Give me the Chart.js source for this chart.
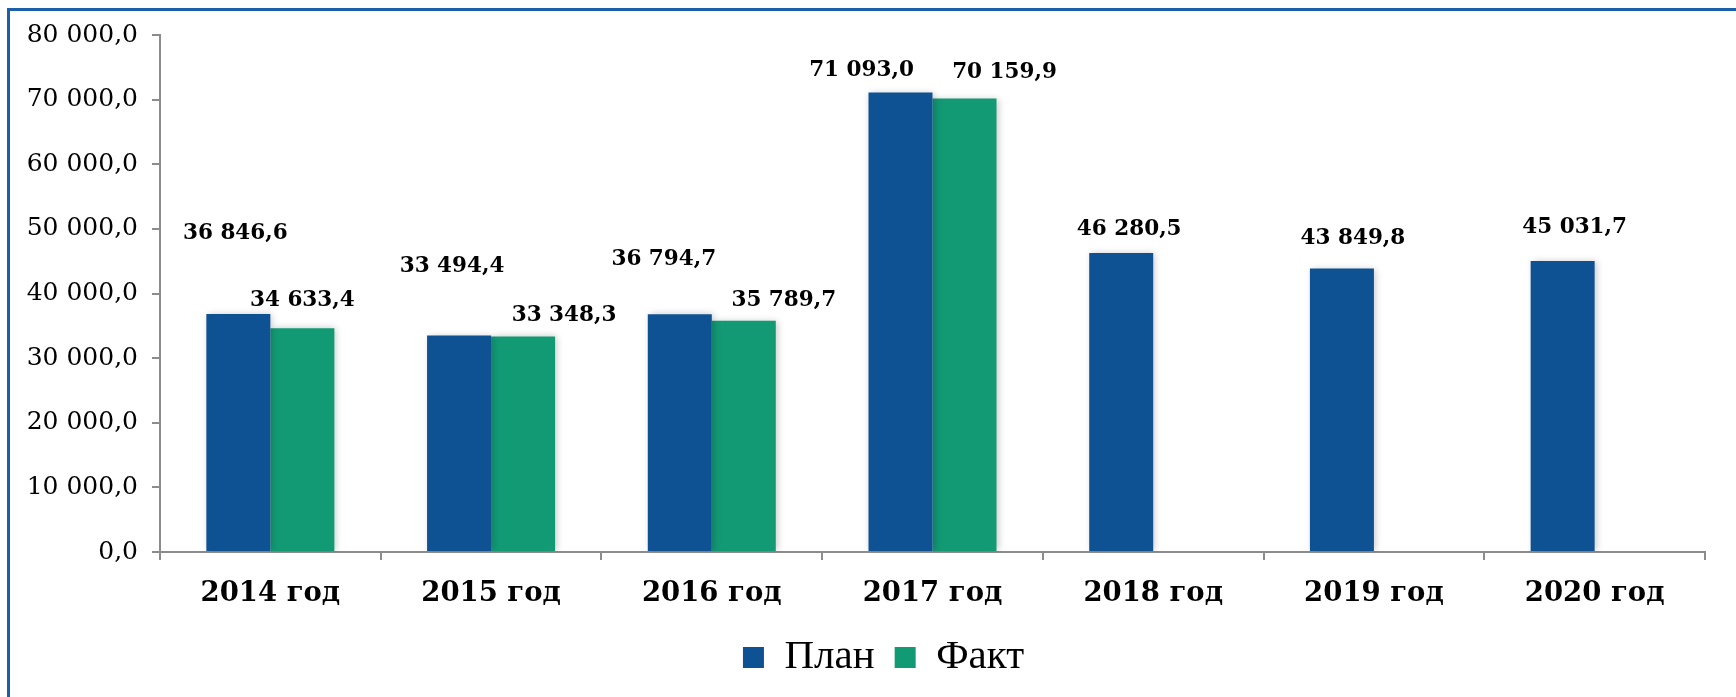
<!DOCTYPE html>
<html>
<head>
<meta charset="utf-8">
<script src="https://cdn.jsdelivr.net/npm/chart.js@4"></script>
<style>
	body { margin: 0; background: #fff; }
	#frame { position: absolute; left: 7px; top: 8px; right: -5px; bottom: -5px; border-left: 3px solid #1d5ea8; border-top: 3px solid #1d5ea8; }
	#chart { position: absolute; left: 0; top: 0; }
</style>
</head>
<body>
<div id="frame"></div>
<canvas id="chart" width="1736" height="697"></canvas>
<script>

var years = ["2014 год", "2015 год", "2016 год", "2017 год", "2018 год", "2019 год", "2020 год"];
var plan = [36846.6, 33494.4, 36794.7, 71093.0, 46280.5, 43849.8, 45031.7];
var fakt = [34633.4, 33348.3, 35789.7, 70159.9, null, null, null];

// label nudges (px) the way they were dragged around in the original
var planLabelShift = [[-3, -52], [-7, -41], [-16, -27], [-39, 6], [8, 5], [11, -2], [12, -6]];
var faktLabelShift = [[0, 0], [41, 7], [40, 8], [40, 2], [0, 0], [0, 0], [0, 0]];

function fmt(v){
	var parts = v.toFixed(1).split('.');
	return parts[0].replace(/\B(?=(\d{3})+(?!\d))/g, ' ') + ',' + parts[1];
}

var barShadow = {
	id: 'barShadow',
	beforeDatasetsDraw: function(chart){
		var ctx = chart.ctx;
		ctx.save();
		ctx.shadowColor = 'rgba(0,0,0,0.22)';
		ctx.shadowBlur = 7;
		ctx.shadowOffsetX = 2;
		ctx.shadowOffsetY = 0;
	},
	afterDatasetsDraw: function(chart){
		chart.ctx.restore();
	}
};

// legend sits a bit right of the centre in the original
var legendNudge = {
	id: 'legendNudge',
	afterLayout: function(chart){
		if (chart.legend) {
			chart.legend.left += 26;
			chart.legend.right += 26;
		}
	}
};

var valueLabels = {
	id: 'valueLabels',
	afterDatasetsDraw: function(chart){
		var ctx = chart.ctx;
		ctx.save();
		ctx.font = 'bold 21.5px "DejaVu Serif"';
		ctx.fillStyle = '#000';
		ctx.textAlign = 'center';
		ctx.textBaseline = 'middle';
		chart.data.datasets.forEach(function(ds, di){
			var shifts = di === 0 ? planLabelShift : faktLabelShift;
			chart.getDatasetMeta(di).data.forEach(function(bar, i){
				var v = ds.data[i];
				if (v === null || v === undefined) { return; }
				ctx.fillText(fmt(v), bar.x + shifts[i][0], bar.y - 28 + shifts[i][1]);
			});
		});
		ctx.restore();
	}
};

var chart_bar_settings = {
	type: 'bar',
	data: {
		labels: years,
		datasets: [{
			label: 'План',
			data: plan,
			backgroundColor: '#0f5294',
			borderWidth: 0
		}, {
			label: 'Факт',
			data: fakt,
			backgroundColor: '#129a75',
			borderWidth: 0
		}]
	},
	options: {
		responsive: false,
		animation: false,
		layout: { padding: { left: 10, right: 31, top: 35, bottom: 9 } },
		datasets: { bar: { barPercentage: 1.0, categoryPercentage: 0.58 } },
		plugins: {
			tooltip: { enabled: false },
			legend: {
				position: 'bottom',
				labels: {
					boxWidth: 21,
					boxHeight: 21,
					padding: 20,
					color: '#000',
					font: { family: '"Liberation Serif"', size: 41 }
				}
			}
		},
		scales: {
			x: {
				grid: { display: true, drawOnChartArea: false, drawTicks: true, tickLength: 8, color: '#8c8c8c', lineWidth: 2 },
				border: { display: true, color: '#8c8c8c', width: 2 },
				ticks: { color: '#000', padding: 17, font: { family: '"DejaVu Serif"', size: 27.5, weight: 'bold' } },
				afterFit: function(axis){ axis.height = 65; }
			},
			y: {
				min: 0,
				max: 80000,
				grid: { display: true, drawOnChartArea: false, drawTicks: true, tickLength: 8, color: '#8c8c8c', lineWidth: 2 },
				border: { display: true, color: '#8c8c8c', width: 2 },
				ticks: {
					stepSize: 10000,
					padding: 14,
					color: '#000',
					font: { family: '"DejaVu Serif"', size: 25 },
					callback: function(v){ return fmt(v); }
				},
				afterFit: function(axis){ axis.width = 150; }
			}
		}
	},
	plugins: [barShadow, valueLabels, legendNudge]
};

new Chart(document.getElementById('chart'), chart_bar_settings);

</script>
</body>
</html>
